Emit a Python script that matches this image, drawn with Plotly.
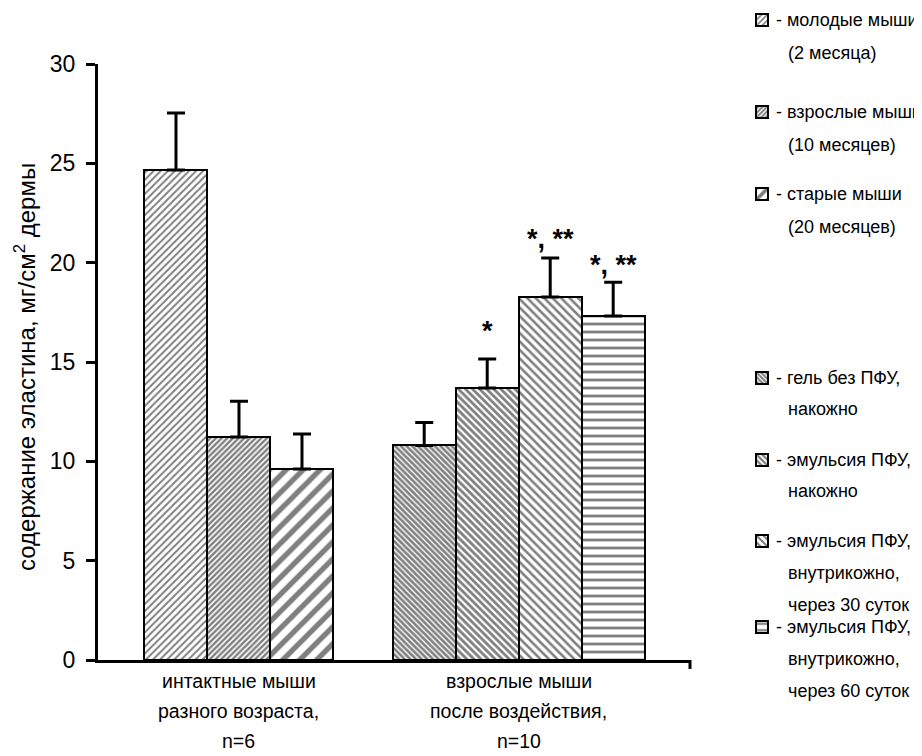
import plotly.graph_objects as go

# ---------------- data ----------------
series_names = [
    "молодые мыши (2 месяца)",
    "взрослые мыши (10 месяцев)",
    "старые мыши (20 месяцев)",
    "гель без ПФУ, накожно",
    "эмульсия ПФУ, накожно",
    "эмульсия ПФУ, внутрикожно, через 30 суток",
    "эмульсия ПФУ, внутрикожно, через 60 суток",
]
legend_lines = [
    ["- молодые мыши", "(2 месяца)"],
    ["- взрослые мыши", "(10 месяцев)"],
    ["- старые мыши", "(20 месяцев)"],
    ["- гель без ПФУ,", "накожно"],
    ["- эмульсия ПФУ,", "накожно"],
    ["- эмульсия ПФУ,", "внутрикожно,", "через 30 суток"],
    ["- эмульсия ПФУ,", "внутрикожно,", "через 60 суток"],
]
values = [24.66, 11.22, 9.61, 10.8, 13.69, 18.27, 17.31]
errors = [2.87, 1.81, 1.76, 1.15, 1.46, 1.96, 1.71]
significance = ["", "", "", "", "*", "*, **", "*, **"]
group_labels = [
    ["интактные мыши", "разного возраста,", "n=6"],
    ["взрослые мыши", "после воздействия,", "n=10"],
]
y_ticks = [0, 5, 10, 15, 20, 25, 30]
y_title = "содержание эластина, мг/см<sup>2</sup> дермы"

# ---------------- layout / style ----------------
bar_positions = [0, 1, 2, 3.94, 4.94, 5.94, 6.94]
group_centers = [1, 5.44]
sig_shift_px = [0, 0, 0, 0, 28, 19, 17]
patterns = [
    dict(shape="/", size=5, solidity=0.4),
    dict(shape="/", size=4, solidity=0.6),
    dict(shape="/", size=12, solidity=0.45),
    dict(shape="\\", size=4, solidity=0.65),
    dict(shape="\\", size=5, solidity=0.55),
    dict(shape="\\", size=6, solidity=0.42),
    dict(shape="-", size=8, solidity=0.35),
]
FONT = "Liberation Sans, Arial, sans-serif"
OFF = 8  # default page body margin
W, H = 922 - OFF, 756 - OFF
PX_LEFT, PX_RIGHT, PX_TOP, PX_BOTTOM = 98 - OFF, 690 - OFF, 64 - OFF, 660 - OFF


def px_to_paper_x(px):
    return (px - OFF - PX_LEFT) / (PX_RIGHT - PX_LEFT)


def px_to_paper_y(py):
    return (PX_BOTTOM - (py - OFF)) / (PX_BOTTOM - PX_TOP)


legend_icon_y = [20, 112, 194, 378, 460, 541, 627]
legend_line_step = [33, 33, 33, 31, 31, 32, 32]
legend_icon_x = 762
legend_text_x = 774
legend_cont_x = 786

fig = go.Figure()
for i, name in enumerate(series_names):
    lg = "legend" if i == 0 else f"legend{i + 1}"
    fig.add_trace(go.Bar(
        x=[bar_positions[i]],
        y=[values[i]],
        width=1,
        name=" ",
        legend=lg,
        marker=dict(
            color="white",
            line=dict(color="black", width=2),
            pattern=dict(fgcolor="black", bgcolor="white", fillmode="overlay", **patterns[i]),
        ),
        error_y=dict(type="data", array=[errors[i]], arrayminus=[0], symmetric=False,
                     color="black", thickness=3, width=9),
        hovertext=name,
    ))

annotations = []
# significance marks
for i, s in enumerate(significance):
    if s:
        annotations.append(dict(
            x=bar_positions[i], y=values[i] + errors[i], xref="x", yref="y",
            text=f"<b>{s}</b>", showarrow=False, yanchor="middle", yshift=sig_shift_px[i],
            font=dict(family=FONT, size=27, color="black"),
        ))
# group labels
for gi, lines in enumerate(group_labels):
    for li, line in enumerate(lines):
        annotations.append(dict(
            x=group_centers[gi], y=px_to_paper_y(681 + 30 * li), xref="x", yref="paper",
            text=line, showarrow=False, yanchor="middle", xanchor="center",
            font=dict(family=FONT, size=19.5, color="black"),
        ))
# legend text
for i, lines in enumerate(legend_lines):
    for li, line in enumerate(lines):
        annotations.append(dict(
            x=px_to_paper_x(legend_text_x if li == 0 else legend_cont_x),
            y=px_to_paper_y(legend_icon_y[i] + legend_line_step[i] * li),
            xref="paper", yref="paper", text=line, showarrow=False,
            xanchor="left", yanchor="middle",
            font=dict(family=FONT, size=18, color="black"),
        ))
# y axis title
annotations.append(dict(
    x=px_to_paper_x(25), y=px_to_paper_y(367), xref="paper", yref="paper",
    text=y_title, textangle=-90, showarrow=False, xanchor="center", yanchor="middle",
    font=dict(family=FONT, size=24, color="black"),
))

layout_legends = {}
for i in range(len(series_names)):
    key = "legend" if i == 0 else f"legend{i + 1}"
    layout_legends[key] = dict(
        x=px_to_paper_x(legend_icon_x - 20), y=px_to_paper_y(legend_icon_y[i]),
        xanchor="left", yanchor="middle", bgcolor="rgba(0,0,0,0)", borderwidth=0,
        font=dict(family=FONT, size=12), itemwidth=30,
    )

fig.update_layout(
    width=W, height=H,
    margin=dict(l=PX_LEFT, r=W - PX_RIGHT, t=PX_TOP, b=H - PX_BOTTOM, autoexpand=False),
    paper_bgcolor="white", plot_bgcolor="white",
    barmode="overlay", bargap=0,
    showlegend=True,
    font=dict(family=FONT, color="black"),
    xaxis=dict(
        range=[-1.238, 8.159], showgrid=False, zeroline=False,
        showline=True, linecolor="black", linewidth=3,
        showticklabels=False, ticks="",
    ),
    yaxis=dict(
        range=[0, 30], tickvals=y_ticks, showgrid=False, zeroline=False,
        showline=True, linecolor="black", linewidth=3,
        ticks="outside", ticklen=9, tickwidth=3, tickcolor="black",
        ticklabelstandoff=6,
        tickfont=dict(family=FONT, size=23, color="black"),
    ),
    annotations=annotations,
    shapes=[dict(type="line", xref="paper", yref="paper", x0=1, x1=1,
                 y0=0, y1=-0.015, line=dict(color="black", width=3))],
    **layout_legends,
)

fig.write_html("out.html")
